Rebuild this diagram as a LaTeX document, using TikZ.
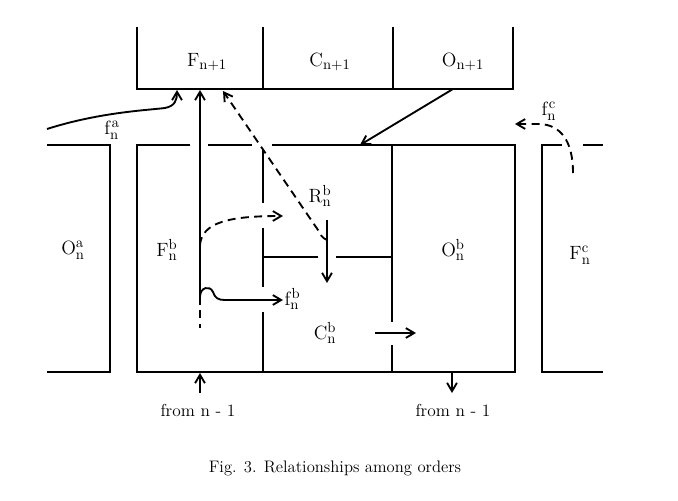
\documentclass[tikz,border=0pt]{standalone}
\usetikzlibrary{arrows.meta}
\tikzset{
  wall/.style={line width=1.4pt},
  flow/.style={line width=1.4pt, -{Straight Barb[length=2.2mm,width=2.6mm]}},
  dflow/.style={flow, dash pattern=on 6pt off 4pt},
  dwall/.style={wall, dash pattern=on 6pt off 4pt},
  lbl/.style={font=\fontsize{15.5}{18}\selectfont, inner sep=1pt},
  note/.style={font=\fontsize{13}{15}\selectfont, inner sep=1pt},
}
\newcommand{\ord}[3]{$\mathrm{#1}^{\mathrm{#2}}_{\mathrm{#3}}$}

\begin{document}
\begin{tikzpicture}[x=0.75pt, y=-0.75pt]
  \useasboundingbox (0,0) rectangle (678,500);

  % level n+1
  \draw[wall] (137,27) -- (137,89) -- (513,89) -- (513,27);
  \draw[wall] (263,27) -- (263,89);
  \draw[wall] (393,27) -- (393,89);
  \node[lbl] (Fup) at (207,62) {$\mathrm{F}_{\mathrm{n+1}}$};
  \node[lbl] (Cup) at (330,62) {$\mathrm{C}_{\mathrm{n+1}}$};
  \node[lbl] (Oup) at (463,62) {$\mathrm{O}_{\mathrm{n+1}}$};

  % level n, left neighbour
  \draw[wall] (47,145) -- (110,145) -- (110,372) -- (47,372);
  \node[lbl] (Oa) at (73,250) {\ord{O}{a}{n}};

  % level n, firm b
  \draw[wall] (190,145) -- (137,145) -- (137,372) -- (515,372) -- (515,145) -- (272,145);
  \draw[wall] (208,145) -- (252,145);
  \draw[wall] (263,150) -- (263,203);
  \draw[wall] (263,228) -- (263,287);
  \draw[wall] (263,312) -- (263,372);
  \draw[wall] (263,257) -- (318,257);
  \draw[wall] (336,257) -- (392,257);
  \draw[wall] (392,145) -- (392,322);
  \draw[wall] (392,345) -- (392,372);
  \node[lbl] (Fb) at (167,250) {\ord{F}{b}{n}};
  \node[lbl] (Rb) at (320,196) {\ord{R}{b}{n}};
  \node[lbl] (Ob) at (453,250) {\ord{O}{b}{n}};
  \node[lbl] (Cb) at (325,333) {\ord{C}{b}{n}};

  % level n, right neighbour
  \draw[wall] (562,145) -- (542,145) -- (542,372) -- (603,372);
  \draw[wall] (583,145) -- (603,145);
  \node[lbl] (Fc) at (580,255) {\ord{F}{c}{n}};

  % connector ends
  \coordinate (fa-in) at (47,129);
  \coordinate (fa-out) at (177,90);
  \coordinate (up-in) at (200,297);
  \coordinate (up-out) at (200,90);
  \coordinate (up-tail) at (200,328);
  \coordinate (r-in) at (327,240);
  \coordinate (r-out) at (223,91);
  \coordinate (rd-in) at (327,220);
  \coordinate (rd-out) at (327,283);
  \coordinate (o-in) at (453,89);
  \coordinate (o-out) at (360,145);
  \coordinate (d-out) at (283,216);
  \coordinate (fb-out) at (283,300);
  \coordinate (c-in) at (375,333);
  \coordinate (c-out) at (416,333);
  \coordinate (fc-in) at (573,173);
  \coordinate (fc-out) at (515,124);
  \coordinate (b1-in) at (200,393);
  \coordinate (b1-out) at (200,373);
  \coordinate (b2-in) at (452,373);
  \coordinate (b2-out) at (452,393);

  \draw[flow] (fa-in) .. controls (100,112) and (150,110) .. (165,108)
    .. controls (175,106) and (177,100) .. (fa-out);
  \node[lbl] (fa) at (112,130) {\ord{f}{a}{n}};
  \draw[flow] (up-in) -- (up-out);
  \draw[dwall] (up-in) -- (up-tail);
  \draw[dflow] (200,245) .. controls (202,222) and (230,216) .. (d-out);
  \draw[flow] (200,297) .. controls (200,287) and (210,285) .. (213,292)
    .. controls (215,298) and (218,300) .. (225,300) -- (fb-out);
  \node[lbl, anchor=west] (fb) at (283,299) {\ord{f}{b}{n}};
  \draw[dflow] (r-in) .. controls (322,238) and (320,234) .. (318,230) -- (r-out);
  \draw[flow] (rd-in) -- (rd-out);
  \draw[flow] (o-in) -- (o-out);
  \draw[flow] (c-in) -- (c-out);
  \draw[dflow] (fc-in) .. controls (573,140) and (560,125) .. (540,124) -- (fc-out);
  \node[lbl] (fc) at (549,111) {\ord{f}{c}{n}};

  \draw[flow] (b1-in) -- (b1-out);
  \draw[flow] (b2-in) -- (b2-out);
  \node[note] (from1) at (198,410) {from n - 1};
  \node[note] (from2) at (453,410) {from n - 1};

  \node[note, font=\fontsize{12.5}{15}\selectfont] (caption) at (335,468)
    {Fig. 3. Relationships among orders};
\end{tikzpicture}
\end{document}
